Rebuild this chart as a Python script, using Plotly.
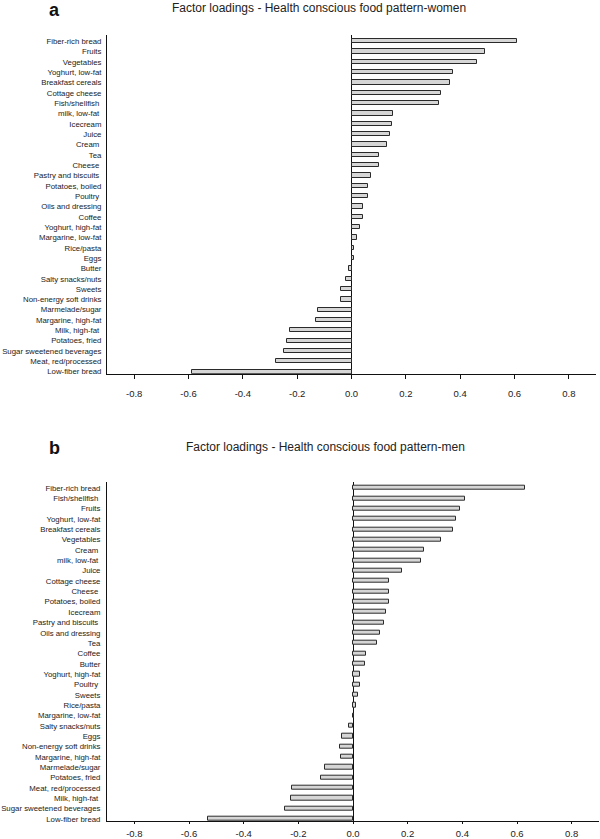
import plotly.graph_objects as go

NB = "\u00a0"

foods_women = ["Fiber-rich bread", "Fruits", "Vegetables", "Yoghurt, low-fat", "Breakfast cereals",
               "Cottage cheese", "Fish/shellfish" + NB, "milk, low-fat" + NB, "Icecream", "Juice",
               "Cream" + NB, "Tea", "Cheese" + NB, "Pastry and biscuits" + NB, "Potatoes, boiled",
               "Poultry" + NB, "Oils and dressing", "Coffee", "Yoghurt, high-fat", "Margarine, low-fat",
               "Rice/pasta", "Eggs", "Butter", "Salty snacks/nuts", "Sweets", "Non-energy soft drinks",
               "Marmelade/sugar", "Margarine, high-fat", "Milk, high-fat" + NB, "Potatoes, fried",
               "Sugar sweetened beverages", "Meat, red/processed", "Low-fiber bread"]
loadings_women = [0.611, 0.491, 0.462, 0.372, 0.361, 0.331, 0.322, 0.151, 0.149, 0.141,
                  0.131, 0.102, 0.102, 0.071, 0.061, 0.061, 0.041, 0.041, 0.031, 0.021,
                  0.011, 0.011, -0.008, -0.019, -0.038, -0.038, -0.124, -0.129, -0.228, -0.239,
                  -0.249, -0.278, -0.588]

foods_men = ["Fiber-rich bread", "Fish/shellfish" + NB, "Fruits", "Yoghurt, low-fat", "Breakfast cereals",
             "Vegetables", "Cream" + NB, "milk, low-fat" + NB, "Juice", "Cottage cheese", "Cheese" + NB,
             "Potatoes, boiled", "Icecream", "Pastry and biscuits" + NB, "Oils and dressing", "Tea",
             "Coffee", "Butter", "Yoghurt, high-fat", "Poultry" + NB, "Sweets", "Rice/pasta",
             "Margarine, low-fat", "Salty snacks/nuts", "Eggs", "Non-energy soft drinks",
             "Margarine, high-fat", "Marmelade/sugar", "Potatoes, fried", "Meat, red/processed",
             "Milk, high-fat" + NB, "Sugar sweetened beverages", "Low-fiber bread"]
loadings_men = [0.628, 0.408, 0.392, 0.378, 0.367, 0.323, 0.260, 0.248, 0.179, 0.133,
                0.133, 0.131, 0.122, 0.112, 0.097, 0.088, 0.048, 0.044, 0.026, 0.024,
                0.018, 0.010, 0.005, -0.014, -0.040, -0.046, -0.045, -0.103, -0.117, -0.222,
                -0.227, -0.248, -0.531]

tick_vals = [-0.8, -0.6, -0.4, -0.2, 0.0, 0.2, 0.4, 0.6, 0.8]
tick_text = ["-0.8", "-0.6", "-0.4", "-0.2", "0.0", "0.2", "0.4", "0.6", "0.8"]

title_women = "Factor loadings - Health conscious food pattern-women"
title_men = "Factor loadings - Health conscious food pattern-men"

FONT = "Liberation Sans, Arial, sans-serif"
W, H = 600, 839

fig = go.Figure()
bar_style = dict(orientation="h", width=0.4, marker=dict(color="#d6d6d6", line=dict(color="#2a2a2a", width=1)),
                 showlegend=False, hoverinfo="x+y")
fig.add_trace(go.Bar(x=loadings_women, y=foods_women, xaxis="x", yaxis="y", **bar_style))
fig.add_trace(go.Bar(x=loadings_men, y=foods_men, xaxis="x2", yaxis="y2", **bar_style))


def px_y(top, bottom):
    return [1 - bottom / H, 1 - top / H]


xcommon = dict(range=[-0.9, 0.9], tickvals=tick_vals, ticktext=tick_text, showline=True,
               linecolor="#111", linewidth=1, showgrid=False, zeroline=True, zerolinecolor="#111",
               zerolinewidth=1, ticks="outside", tickcolor="#111", tickwidth=1, automargin=False,
               tickfont=dict(family=FONT, size=9.5, color="#222"), fixedrange=True)
ycommon = dict(type="category", showline=True, linecolor="#111", linewidth=1, showgrid=False,
               ticks="", automargin=False, tickfont=dict(family=FONT, size=7.8, color="#222"), fixedrange=True)

fig.update_layout(
    width=W, height=H,
    margin=dict(l=0, r=0, t=0, b=0, autoexpand=False),
    paper_bgcolor="white", plot_bgcolor="white",
    bargap=0,
    xaxis=dict(domain=[107 / W, 596 / W], anchor="y", ticklen=4, ticklabelstandoff=7, **xcommon),
    yaxis=dict(domain=px_y(35, 373.7), anchor="x", range=[32.19, -0.6], ticklabelstandoff=3, **ycommon),
    xaxis2=dict(domain=[107 / W, 599 / W], anchor="y2", ticklen=2, ticklabelstandoff=1, **xcommon),
    yaxis2=dict(domain=px_y(481.7, 821.3), anchor="x2", range=[32.23, -0.61], ticklabelstandoff=4, **ycommon),
    annotations=[
        dict(text="<b>a</b>", x=47 / W, y=1 - 10 / H, xref="paper", yref="paper", xanchor="left",
             yanchor="middle", showarrow=False, font=dict(family=FONT, size=18, color="#111")),
        dict(text=title_women, x=170 / W, y=1 - 8 / H, xref="paper", yref="paper", xanchor="left",
             yanchor="middle", showarrow=False, font=dict(family=FONT, size=12, color="#222")),
        dict(text="<b>b</b>", x=47 / W, y=1 - 448 / H, xref="paper", yref="paper", xanchor="left",
             yanchor="middle", showarrow=False, font=dict(family=FONT, size=18, color="#111")),
        dict(text=title_men, x=184 / W, y=1 - 447 / H, xref="paper", yref="paper", xanchor="left",
             yanchor="middle", showarrow=False, font=dict(family=FONT, size=12, color="#222")),
    ],
)

fig.write_html("out.html", config={"displayModeBar": False},
               post_script="document.body.style.margin='0';document.body.style.overflow='hidden';")
